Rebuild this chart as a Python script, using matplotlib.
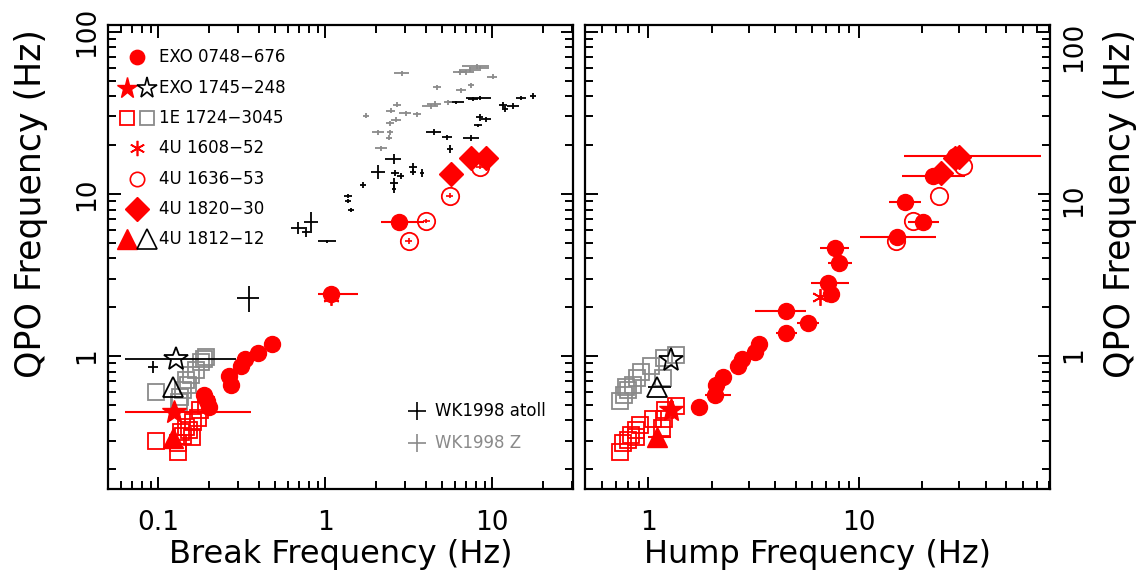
import matplotlib
matplotlib.use("Agg")
import matplotlib.pyplot as plt
import numpy as np
from matplotlib.ticker import FixedLocator, FuncFormatter, NullFormatter, LogLocator

plt.rcParams['font.family'] = ['DejaVu Sans']

RED = '#ff0000'
GRAY = '#8a8a8a'

# ---------------- data: left panel (break frequency) ----------------
exo0748_break = [0.188, 0.195, 0.200, 0.265, 0.274, 0.311, 0.331, 0.393, 0.477, 1.083, 2.75]
exo0748_qpo_l = [0.578, 0.528, 0.484, 0.753, 0.662, 0.861, 0.951, 1.044, 1.186, 2.41, 6.71]
exo0748_break_lo = [0.005, 0, 0.008, 0, 0, 0, 0, 0, 0.01, 0.18, 0.61]
exo0748_break_hi = [0.005, 0, 0.008, 0, 0, 0, 0, 0, 0.01, 0.48, 1.15]

u1636_break = [3.17, 4.02, 5.55, 8.39]
u1636_qpo_l = [5.13, 6.81, 9.76, 14.7]
u1636_break_err = [0.15, 0.2, 0.3, 0.4]
u1636_qpo_err_l = [0.2, 0.2, 0.35, 0.5]

u1820_break = [5.63, 7.48, 9.2]
u1820_qpo_l = [13.3, 16.6, 16.6]

u1608_break = [1.08]
u1608_qpo_l = [2.3]

exo1745_break_red = [0.125]
exo1745_qpo_red_l = [0.453]
exo1745_break_red_lo = [0.062]
exo1745_break_red_hi = [0.232]
exo1745_break_blk = [0.128]
exo1745_qpo_blk_l = [0.954]
exo1745_break_blk_lo = [0.065]
exo1745_break_blk_hi = [0.165]

u1812_break = [0.122]
u1812_qpo_red_l = [0.310]
u1812_qpo_blk_l = [0.641]

e1724_break_red = [0.0973, 0.131, 0.131, 0.137, 0.147, 0.160, 0.161, 0.173, 0.177, 0.192, 0.140, 0.152]
e1724_qpo_red_l = [0.300, 0.2555, 0.290, 0.340, 0.365, 0.316, 0.392, 0.414, 0.464, 0.498, 0.321, 0.349]
e1724_break_gray = [0.0965, 0.133, 0.134, 0.140, 0.150, 0.147, 0.158, 0.169, 0.181, 0.194, 0.187]
e1724_qpo_gray_l = [0.602, 0.522, 0.561, 0.617, 0.662, 0.711, 0.764, 0.820, 0.922, 0.990, 0.958]

# WK1998 atoll sources
atoll_x = [17.5, 14.9, 13.3, 11.6, 11.85, 8.39, 7.65, 6.09, 8.39, 9.21, 8.2, 7.49, 5.38, 4.47, 5.55,
           2.56, 2.07, 2.63, 2.82, 3.35, 3.35, 3.81, 2.57, 2.57, 1.68, 1.37, 1.37, 1.43, 0.824, 0.685,
           0.770, 1.03, 0.349, 0.0928]
atoll_y = [39.9, 39.0, 34.9, 35.4, 33.5, 39.0, 38.6, 36.6, 29.6, 28.9, 26.4, 22.1, 22.4, 24.1, 18.9,
           16.4, 13.7, 13.4, 12.9, 14.7, 13.7, 13.5, 11.6, 10.7, 11.4, 9.72, 9.05, 7.96, 6.72, 6.14,
           5.85, 5.08, 2.29, 0.852]
atoll_xerr = [0.72, 1.03, 1.1, 0.64, 0.5, 1.39, 0.53, 0.67, 0.46, 0.64, 0.45, 0.83, 0.37, 0.49, 0.23,
              0.28, 0.20, 0.145, 0.12, 0.18, 0.14, 0.1, 0.14, 0.07, 0.07, 0.075, 0.057, 0.06, 0.08, 0.066,
              0.042, 0.13, 0.053, 0.0064]
atoll_yerr = [1.7, 1.3, 1.5, 1.5, 1.4, 1.1, 1.1, 1.0, 1.3, 1.0, 0.6, 0.8, 0.8, 1.0, 1.07,
              1.16, 1.37, 0.57, 0.55, 0.84, 0.58, 0.77, 0.83, 0.6, 0.49, 0.32, 0.3, 0.26, 0.95, 0.52,
              0.42, 0.14, 0.42, 0.073]

# WK1998 Z sources
z_x = [2.87, 4.66, 6.52, 7.41, 8.05, 7.31, 6.99, 8.39, 10.04, 6.37, 5.42, 4.51, 4.27, 2.70, 2.46, 3.03,
       3.55, 1.76, 2.65, 2.43, 2.07, 2.43, 2.41, 2.16]
z_y = [55.6, 45.3, 43.4, 46.9, 61.1, 58.3, 56.4, 59.7, 52.7, 56.1, 36.6, 35.9, 34.6, 35.4, 32.5, 31.5,
       31.0, 30.3, 28.6, 27.3, 24.0, 24.0, 22.2, 19.1]
z_xerr = [0.30, 0.26, 0.45, 0.31, 1.44, 1.0, 0.77, 1.16, 0.69, 0.53, 0.3, 0.44, 0.47, 0.15, 0.14, 0.25,
          0.2, 0.07, 0.18, 0.13, 0.17, 0.1, 0.1, 0.18]
z_yerr = [2.0, 1.6, 1.5, 1.7, 2.2, 2.1, 2.0, 2.1, 1.9, 2.0, 1.3, 1.3, 1.2, 1.3, 1.2, 1.1,
          1.1, 1.1, 1.0, 1.0, 0.9, 0.9, 0.8, 0.7]

# ---------------- data: right panel (hump frequency) ----------------
exo0748_hump = [1.748, 2.06, 2.10, 2.256, 2.66, 2.78, 3.21, 3.35, 4.52, 4.48, 5.72, 7.39, 7.12, 7.66,
                8.03, 15.1, 20.1, 16.5, 22.4, 28.5]
exo0748_qpo_r = [0.481, 0.574, 0.662, 0.745, 0.868, 0.954, 1.051, 1.178, 1.393, 1.896, 1.592, 2.414,
                 2.834, 4.60, 3.735, 5.43, 6.67, 8.96, 12.8, 17.0]
exo0748_hump_lo = [0, 0.21, 0, 0, 0, 0, 0.15, 0.1, 0.50, 1.29, 0.66, 0.40, 1.19, 1.16, 0.90, 5.0, 3.0,
                   2.6, 6.4, 12.2]
exo0748_hump_hi = [0, 0.41, 0, 0, 0, 0, 0.15, 0.1, 0.57, 1.10, 0.71, 0.70, 1.83, 1.29, 1.24, 8.2, 3.8,
                   3.2, 9.5, 45.0]

u1636_hump = [14.95, 18.07, 23.9, 31.2]
u1636_qpo_r = [5.08, 6.84, 9.76, 14.95]

u1820_hump = [24.6, 28.6, 30.0]
u1820_qpo_r = [13.4, 16.6, 16.9]

u1608_hump = [6.55]
u1608_qpo_r = [2.32]

exo1745_hump = [1.28]
exo1745_qpo_red_r = [0.464]
exo1745_qpo_blk_r = [0.945]

u1812_hump = [1.095]
u1812_hump_lo = [0.10]
u1812_hump_hi = [0.19]
u1812_qpo_red_r = [0.315]
u1812_qpo_blk_r = [0.646]

e1724_hump_red = [0.736, 0.760, 0.797, 0.827, 0.872, 0.916, 1.048, 1.159, 1.198, 1.351, 1.191, 0.874]
e1724_qpo_red_r = [0.257, 0.289, 0.303, 0.325, 0.349, 0.375, 0.411, 0.357, 0.464, 0.491, 0.411, 0.318]
e1724_hump_gray = [0.732, 0.769, 0.797, 0.849, 0.882, 0.923, 1.030, 1.191, 1.354, 1.178, 0.783]
e1724_qpo_gray_r = [0.524, 0.574, 0.617, 0.662, 0.728, 0.800, 0.861, 0.968, 1.014, 0.731, 0.646]

legend_labels = ['EXO 0748\u2212676', 'EXO 1745\u2212248', '1E 1724\u22123045', '4U 1608\u221252',
                 '4U 1636\u221253', '4U 1820\u221230', '4U 1812\u221212']
wk_labels = ['WK1998 atoll', 'WK1998 Z']

# ---------------- figure ----------------
fig = plt.figure(figsize=(11.36, 5.74), dpi=100)
axL = fig.add_axes([108 / 1136, 85 / 574, 465 / 1136, 464 / 574])
axR = fig.add_axes([585 / 1136, 85 / 574, 465 / 1136, 464 / 574])

ms_circ = 11.5
ms_sq = 11
ms_dia = 12
ms_star = 18
ms_tri = 15
lw_e = 1.5


def sq(ax, x, y, color):
    ax.plot(x, y, 's', ms=ms_sq, mfc='none', mec=color, mew=1.3, ls='none', zorder=4)


# ---- left panel ----
ax = axL
ax.errorbar(atoll_x, atoll_y, xerr=atoll_xerr, yerr=atoll_yerr, fmt='none', ecolor='black',
            elinewidth=1.3, capsize=0, zorder=2)
ax.errorbar(z_x, z_y, xerr=z_xerr, yerr=z_yerr, fmt='none', ecolor=GRAY,
            elinewidth=1.3, capsize=0, zorder=2)
sq(ax, e1724_break_gray, e1724_qpo_gray_l, GRAY)
sq(ax, e1724_break_red, e1724_qpo_red_l, RED)
ax.errorbar(u1636_break, u1636_qpo_l, xerr=u1636_break_err, yerr=u1636_qpo_err_l, fmt='o', ms=ms_circ + 1,
            mfc='none', mec=RED, mew=1.3, ecolor=RED, elinewidth=1.2, capsize=0, zorder=5)
ax.errorbar(exo0748_break, exo0748_qpo_l, xerr=[exo0748_break_lo, exo0748_break_hi], fmt='o', ms=ms_circ,
            color=RED, ecolor=RED, elinewidth=lw_e, capsize=0, zorder=6)
ax.plot(u1608_break, u1608_qpo_l, marker=(6, 2, 0), ms=12, color=RED, mew=1.3, ls='none', zorder=5)
ax.plot(u1820_break, u1820_qpo_l, 'D', ms=ms_dia, color=RED, ls='none', zorder=7)
ax.errorbar(exo1745_break_blk, exo1745_qpo_blk_l, xerr=[exo1745_break_blk_lo, exo1745_break_blk_hi],
            fmt='*', ms=ms_star, mfc='none', mec='black', mew=1.3, ecolor='black', elinewidth=1.3,
            capsize=0, zorder=8)
ax.errorbar(exo1745_break_red, exo1745_qpo_red_l, xerr=[exo1745_break_red_lo, exo1745_break_red_hi],
            fmt='*', ms=ms_star, color=RED, ecolor=RED, elinewidth=lw_e, capsize=0, zorder=8)
ax.plot(u1812_break, u1812_qpo_blk_l, '^', ms=ms_tri, mfc='none', mec='black', mew=1.3, ls='none', zorder=8)
ax.plot(u1812_break, u1812_qpo_red_l, '^', ms=ms_tri, color=RED, ls='none', zorder=8)

# ---- right panel ----
ax = axR
sq(ax, e1724_hump_gray, e1724_qpo_gray_r, GRAY)
sq(ax, e1724_hump_red, e1724_qpo_red_r, RED)
ax.plot(u1636_hump, u1636_qpo_r, 'o', ms=ms_circ + 1, mfc='none', mec=RED, mew=1.3, ls='none', zorder=5)
ax.errorbar(exo0748_hump, exo0748_qpo_r, xerr=[exo0748_hump_lo, exo0748_hump_hi], fmt='o', ms=ms_circ,
            color=RED, ecolor=RED, elinewidth=lw_e, capsize=0, zorder=6)
ax.plot(u1608_hump, u1608_qpo_r, marker=(6, 2, 0), ms=12, color=RED, mew=1.3, ls='none', zorder=5)
ax.plot(u1820_hump, u1820_qpo_r, 'D', ms=ms_dia, color=RED, ls='none', zorder=7)
ax.plot(exo1745_hump, exo1745_qpo_blk_r, '*', ms=ms_star, mfc='none', mec='black', mew=1.3, ls='none', zorder=8)
ax.plot(exo1745_hump, exo1745_qpo_red_r, '*', ms=ms_star, color=RED, ls='none', zorder=8)
ax.errorbar(u1812_hump, u1812_qpo_blk_r, xerr=[u1812_hump_lo, u1812_hump_hi], fmt='^', ms=ms_tri,
            mfc='none', mec='black', mew=1.3, ecolor='black', elinewidth=1.3, capsize=0, zorder=8)
ax.errorbar(u1812_hump, u1812_qpo_red_r, xerr=[u1812_hump_lo, u1812_hump_hi], fmt='^', ms=ms_tri,
            color=RED, ecolor=RED, elinewidth=lw_e, capsize=0, zorder=8)

# ---- axes styling ----
fmt = FuncFormatter(lambda v, p: f'{v:g}')
for ax, xlim, xlab in [(axL, (0.05, 30.4), 'Break Frequency (Hz)'),
                       (axR, (0.5, 80.7), 'Hump Frequency (Hz)')]:
    ax.set_xscale('log')
    ax.set_yscale('log')
    ax.set_xlim(*xlim)
    ax.set_ylim(0.151, 110)
    ax.xaxis.set_major_locator(FixedLocator([0.01, 0.1, 1, 10, 100]))
    ax.yaxis.set_major_locator(FixedLocator([0.1, 1, 10, 100]))
    ax.xaxis.set_minor_locator(LogLocator(base=10, subs=np.arange(2, 10), numticks=20))
    ax.yaxis.set_minor_locator(LogLocator(base=10, subs=np.arange(2, 10), numticks=20))
    ax.xaxis.set_major_formatter(fmt)
    ax.yaxis.set_major_formatter(fmt)
    ax.xaxis.set_minor_formatter(NullFormatter())
    ax.yaxis.set_minor_formatter(NullFormatter())
    ax.tick_params(which='both', direction='in', top=True, right=True, left=True, bottom=True,
                   width=1.4, labelsize=19)
    ax.tick_params(which='major', length=9)
    ax.tick_params(which='minor', length=5.5)
    ax.tick_params(axis='x', pad=15)
    ax.tick_params(axis='y', pad=6, labelrotation=90)
    for s in ax.spines.values():
        s.set_linewidth(1.6)
    ax.set_xlabel(xlab, fontsize=23, labelpad=2)

axL.set_ylabel('QPO Frequency (Hz)', fontsize=25)
axL.yaxis.set_label_coords(-0.13, 0.615)
for lab in axL.get_yticklabels():
    lab.set_verticalalignment('center')

axR.tick_params(axis='y', labelleft=False, labelright=True, pad=8)
axR.yaxis.set_label_position('right')
axR.set_ylabel('QPO Frequency (Hz)', fontsize=25)
axR.yaxis.set_label_coords(1.115, 0.615)

# ---- legend (left panel) ----
tr = axL.transAxes
rows = [0.930, 0.865, 0.800, 0.734, 0.669, 0.603, 0.539]
xs, xp1, xp2, xt = 0.063, 0.0415, 0.0832, 0.1097
kw = dict(transform=tr, clip_on=False, ls='none')
axL.plot([xs], [rows[0]], 'o', ms=ms_circ * 0.9, color=RED, **kw)
axL.plot([xp1], [rows[1]], '*', ms=ms_star * 0.85, color=RED, **kw)
axL.plot([xp2], [rows[1]], '*', ms=ms_star * 0.85, mfc='none', mec='black', mew=1.2, **kw)
axL.plot([xp1], [rows[2]], 's', ms=ms_sq * 0.9, mfc='none', mec=RED, mew=1.3, **kw)
axL.plot([xp2], [rows[2]], 's', ms=ms_sq * 0.9, mfc='none', mec=GRAY, mew=1.3, **kw)
axL.plot([xs], [rows[3]], marker=(6, 2, 0), ms=11, color=RED, mew=1.2, **kw)
axL.plot([xs], [rows[4]], 'o', ms=ms_circ * 0.9, mfc='none', mec=RED, mew=1.2, **kw)
axL.plot([xs], [rows[5]], 'D', ms=ms_dia * 1.05, color=RED, **kw)
axL.plot([xp1], [rows[6]], '^', ms=ms_tri * 0.95, color=RED, **kw)
axL.plot([xp2], [rows[6]], '^', ms=ms_tri * 0.95, mfc='none', mec='black', mew=1.2, **kw)
for r, t in zip(rows, legend_labels):
    axL.text(xt, r, t, transform=tr, fontsize=12, ha='left', va='center')

axL.plot([0.664], [0.168], '+', ms=13, mew=1.2, color='black', **kw)
axL.plot([0.664], [0.100], '+', ms=13, mew=1.2, color=GRAY, **kw)
axL.text(0.703, 0.168, wk_labels[0], transform=tr, fontsize=12, ha='left', va='center', color='black')
axL.text(0.703, 0.100, wk_labels[1], transform=tr, fontsize=12, ha='left', va='center', color=GRAY)

fig.savefig('out.png', dpi=100)
